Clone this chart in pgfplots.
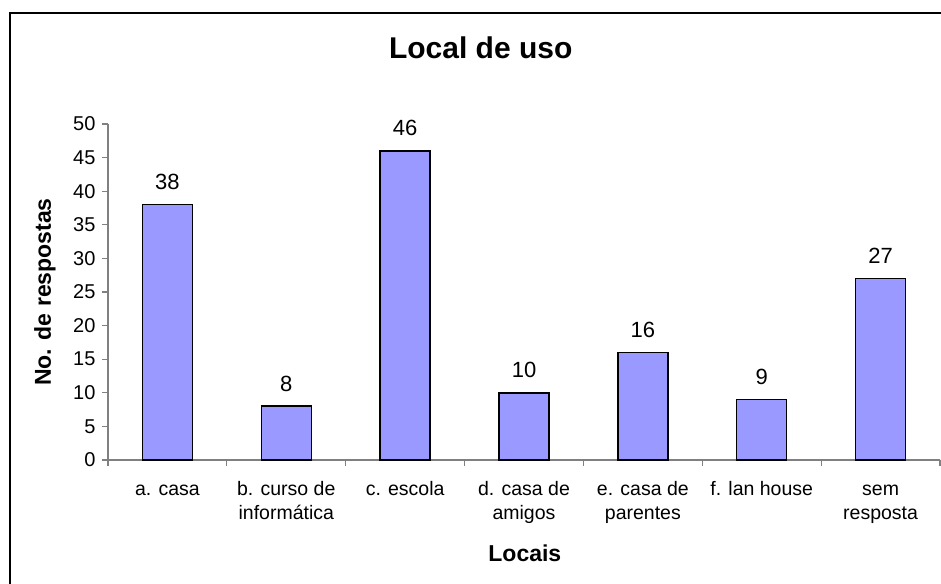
\documentclass[border=0pt]{standalone}
\usepackage{pgfplots}
\pgfplotsset{compat=1.18}
\usepackage{fontspec}
\setmainfont{Liberation Sans}
\definecolor{barfill}{HTML}{9999FF}
\definecolor{axgray}{HTML}{808080}
\begin{document}
\begin{tikzpicture}[x=1pt,y=1pt]
\useasboundingbox (0,0) rectangle (941,-583);
\draw[line width=1.5pt] (10,-600) -- (10,-13) -- (950,-13);
\begin{axis}[
  at={(108pt,-460pt)}, anchor=south west,
  scale only axis, width=832pt, height=336pt,
  xmin=-0.5, xmax=6.5, ymin=0, ymax=50,
  ybar, bar width=50pt,
  axis x line*=bottom, axis y line*=left,
  axis line style={axgray, line width=1.2pt, -},
  ytick={0,5,...,50},
  xtick={-0.5,0.5,...,6.5},
  xticklabels={},
  extra x ticks={0,1,2,3,4,5,6},
  extra x tick labels={\strut a. casa, \strut b. curso de\\informática, \strut c. escola, \strut d. casa de\\amigos, \strut e. casa de\\parentes, \strut f. lan house, \strut sem\\resposta},
  extra x tick style={major tick length=0pt},
  tick style={axgray, line width=1.2pt},
  tick align=outside,
  major tick length=6pt,
  xticklabel style={font=\fontsize{19.5}{23.5}\selectfont, align=center, anchor=north, yshift=-16pt},
  yticklabel style={font=\fontsize{20}{24}\selectfont, xshift=-3pt},
  /pgf/number format/assume math mode=true,
  title={Local de uso},
  title style={font=\bfseries\fontsize{30}{36}\selectfont, at={(rel axis cs:0.448,1.2098)}, anchor=center},
  ylabel={No. de respostas},
  ylabel style={font=\bfseries\fontsize{23}{27}\selectfont, at={(rel axis cs:-0.0757,0.5)}, anchor=center},
  xlabel={Locais},
  xlabel style={font=\bfseries\fontsize{23}{27}\selectfont, at={(rel axis cs:0.501,-0.2777)}, anchor=center},
  clip=false,
]
\addplot[fill=barfill, draw=black, line width=1.5pt,
  nodes near coords,
  nodes near coords style={font=\fontsize{22}{26}\selectfont, black, anchor=base, yshift=15pt}]
  coordinates {(0,38) (1,8) (2,46) (3,10) (4,16) (5,9) (6,27)};
\end{axis}
\end{tikzpicture}
\end{document}
